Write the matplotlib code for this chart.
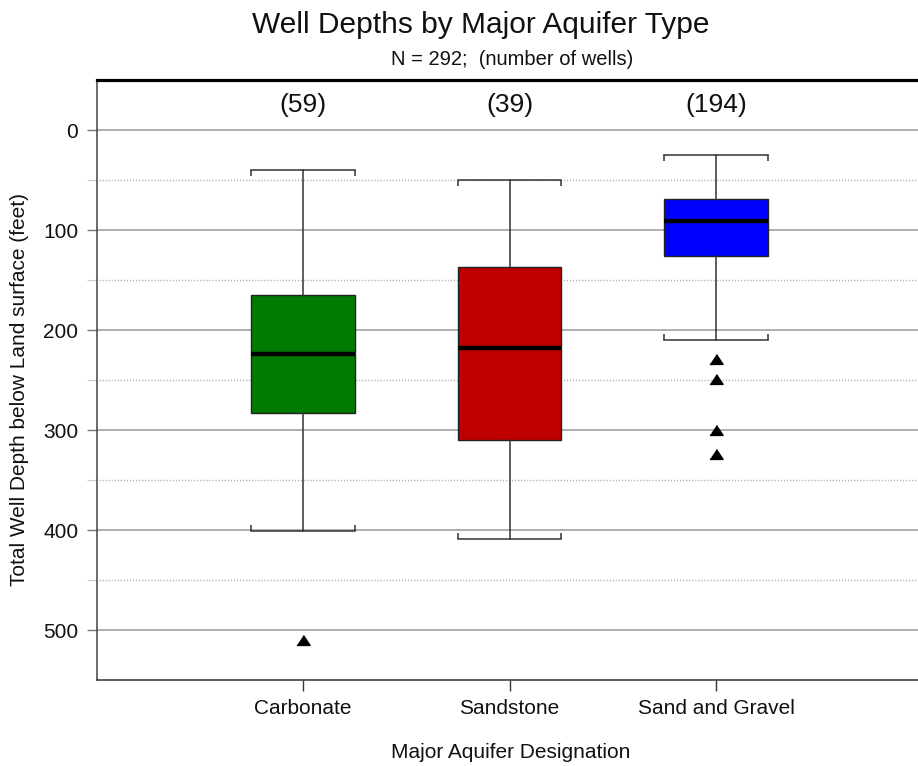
import matplotlib
matplotlib.use("Agg")
import matplotlib.pyplot as plt
import numpy as np

plt.rcParams['font.family'] = ['Liberation Sans', 'DejaVu Sans']

# aquifer groups and their box-plot summaries (depth in feet)
groups = ['Carbonate', 'Sandstone', 'Sand and Gravel']
n_wells = [59, 39, 194]
q1 = [165, 137, 69]
medians = [224, 218, 91]
q3 = [283, 310, 126]
whisk_shallow = [40, 50, 25]
whisk_deep = [401, 409, 210]
outliers = [[510], [], [229, 249, 300, 324]]
colors = ['#007A00', '#C00000', '#0000FF']

fig = plt.figure(figsize=(9.18, 7.66), dpi=100)
ax = fig.add_axes([96.5/918, 86/766, 826/918, 600/766])

stats = []
for i in range(len(groups)):
    stats.append({'label': groups[i], 'med': medians[i], 'q1': q1[i], 'q3': q3[i],
                  'whislo': whisk_shallow[i], 'whishi': whisk_deep[i],
                  'fliers': outliers[i]})

positions = np.arange(1, len(groups) + 1)
width = 0.5

# background grid: solid at 100s, broken dotted at 50s
for v in range(0, 501, 100):
    ax.axhline(v, color='#9a9a9a', lw=1.1, zorder=0)
dot_pattern = (3, tuple([0.8, 1.4] * 17 + [0.8, 11.0]))
for v in range(50, 451, 100):
    ax.axhline(v, color='#a8a8a8', lw=1.0, linestyle=dot_pattern, zorder=0)

tri = [(-1, -0.75), (1, -0.75), (0, 0.75)]
bp = ax.bxp(stats, positions=positions, widths=width, patch_artist=True,
            boxprops=dict(edgecolor='#222222', linewidth=1.0),
            medianprops=dict(color='black', linewidth=3.2, solid_capstyle='butt'),
            whiskerprops=dict(color='#333333', linewidth=1.1),
            capprops=dict(color='#333333', linewidth=1.1),
            flierprops=dict(marker=tri, markersize=9.5, markerfacecolor='black',
                            markeredgecolor='black', linestyle='none'),
            capwidths=width, manage_ticks=False, zorder=3)
for patch, c in zip(bp['boxes'], colors):
    patch.set_facecolor(c)

# small end ticks on the whisker caps, pointing toward the box
for i, x in enumerate(positions):
    for xe in (x - width/2, x + width/2):
        ax.vlines(xe, whisk_shallow[i], whisk_shallow[i] + 6, color='#333333', lw=1.1, zorder=3)
        ax.vlines(xe, whisk_deep[i] - 6, whisk_deep[i], color='#333333', lw=1.1, zorder=3)

# number of wells above each box
for x, n in zip(positions, n_wells):
    ax.text(x, -18, '(%d)' % n, ha='center', va='baseline', fontsize=19, color='#111111')

ax.set_xlim(0, 4)
ax.set_ylim(550, -50)
ax.set_xticks(positions)
ax.set_xticklabels(groups, fontsize=15, color='#111111')
ax.set_yticks(range(0, 501, 100))
ax.set_yticklabels([str(v) for v in range(0, 501, 100)], fontsize=15, color='#111111')
ax.set_yticks(range(50, 451, 100), minor=True)
ax.tick_params(axis='y', which='major', length=7.2, width=1.0, color='#777777', pad=6)
ax.tick_params(axis='y', which='minor', length=7.2, width=0.8, color='#cccccc')
ax.tick_params(axis='x', length=8, width=1.0, color='#333333', pad=5.5)

ax.spines['right'].set_visible(False)
ax.spines['top'].set_linewidth(2.3)
ax.spines['top'].set_color('black')
ax.spines['left'].set_color('#444444')
ax.spines['left'].set_linewidth(1.1)
ax.spines['bottom'].set_color('#333333')
ax.spines['bottom'].set_linewidth(1.1)

fig.text(481/918, 1 - 33/766, 'Well Depths by Major Aquifer Type', ha='center',
         va='baseline', fontsize=21.5, color='#111111')
fig.text(512/918, 1 - 65/766, 'N = 292;  (number of wells)', ha='center',
         va='baseline', fontsize=14.5, color='#111111')
fig.text(511/918, 1 - 758/766, 'Major Aquifer Designation', ha='center',
         va='baseline', fontsize=15, color='#111111')
fig.text(20/918, 1 - 389/766, 'Total Well Depth below Land surface (feet)', ha='center',
         va='center', rotation=90, fontsize=15, color='#111111')

fig.savefig('out.png', dpi=100)
